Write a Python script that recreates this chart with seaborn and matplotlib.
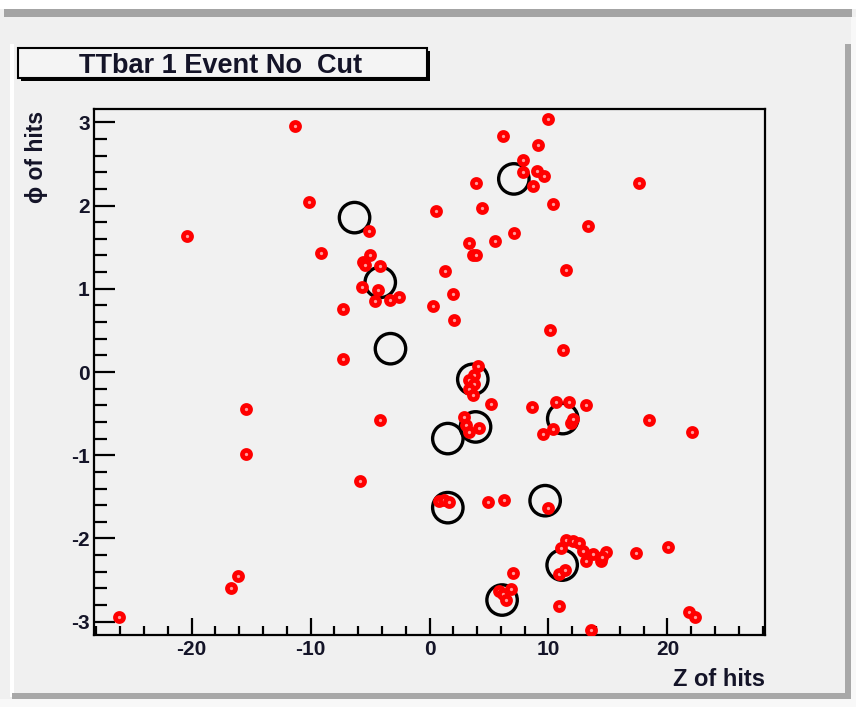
import matplotlib
matplotlib.use("Agg")
import matplotlib.pyplot as plt
from matplotlib.patches import Rectangle
from matplotlib.ticker import MultipleLocator, FixedLocator
import seaborn as sns
import pandas as pd

# Hit positions (Z, phi) for the event
hit_z = [-11.34, -10.17, -20.4, -9.1, -5.05, -7.29, -7.29, -5.6, -4.98, -5.38,
         -4.2, -5.66, -4.31, -4.62, -3.36, -2.58, 0.31, 9.94, 6.19, 9.1,
         7.84, 7.84, 9.02, 9.66, 8.74, 3.87, 17.65, 10.36, 0.56, 4.4,
         13.36, 7.09, 5.52, 3.28, 3.64, 3.92, 1.34, 11.51, 1.96, 2.04,
         10.11, 11.23, 4.06, 3.78, 3.30, 3.78, 3.36, 3.64, 5.18, 8.6,
         10.67, 11.76, 13.17, 18.49, 11.9, 12.05, 10.36, 9.52, 2.94, 3.08,
         3.36, 4.2, 0.84, 1.26, 1.68, 4.9, 6.3, 10.0, 11.49, 12.04,
         12.6, 11.07, 12.88, 13.72, 14.85, 13.17, 14.43, 14.51, 17.37, 20.03,
         10.92, 11.4, 7.0, 5.88, 6.16, 6.39, 6.87, 10.92, 13.59, 21.85,
         22.35, 22.07, -15.4, -4.14, -15.4, -5.82, -16.1, -16.72, -26.1]
hit_phi = [2.96, 2.04, 1.635, 1.43, 1.70, 0.76, 0.16, 1.325, 1.40, 1.285,
           1.27, 1.02, 0.985, 0.85, 0.86, 0.90, 0.79, 3.045, 2.84, 2.73,
           2.55, 2.40, 2.42, 2.36, 2.23, 2.27, 2.27, 2.02, 1.94, 1.97,
           1.76, 1.67, 1.57, 1.555, 1.405, 1.40, 1.21, 1.23, 0.936, 0.63,
           0.51, 0.26, 0.07, -0.04, -0.10, -0.14, -0.20, -0.28, -0.39, -0.425,
           -0.36, -0.36, -0.40, -0.58, -0.61, -0.57, -0.68, -0.74, -0.54, -0.64,
           -0.72, -0.67, -1.545, -1.537, -1.566, -1.565, -1.534, -1.634, -2.02, -2.03,
           -2.06, -2.11, -2.15, -2.19, -2.16, -2.27, -2.27, -2.22, -2.18, -2.10,
           -2.43, -2.38, -2.41, -2.63, -2.67, -2.74, -2.61, -2.81, -3.10, -2.88,
           -2.94, -0.72, -0.44, -0.58, -0.98, -1.305, -2.45, -2.59, -2.94]

# Cluster centres (Z, phi)
seed_z = [-6.3, -4.14, -3.28, 3.64, 3.87, 1.54, 11.2, 7.09, 9.72, 1.54, 11.15, 6.1]
seed_phi = [1.855, 1.077, 0.28, -0.088, -0.66, -0.80, -0.56, 2.32, -1.546, -1.63, -2.32, -2.74]

x_major = [-20, -10, 0, 10, 20]
y_major = [-3, -2, -1, 0, 1, 2, 3]
title_text = "TTbar 1 Event No  Cut"
x_title = "Z of hits"
y_title = "\u03d5 of hits"

hits = pd.DataFrame({"z": hit_z, "phi": hit_phi})
seeds = pd.DataFrame({"z": seed_z, "phi": seed_phi})

sns.set_style("ticks")
plt.rcParams["font.family"] = ["Liberation Sans", "DejaVu Sans"]
plt.rcParams["axes.unicode_minus"] = False

W, H = 856, 707
BG = "#f0f0f0"
TXT = "#141428"
fig = plt.figure(figsize=(W / 100, H / 100), dpi=100, facecolor=BG)


def px_rect(x0, y0, x1, y1, **kw):
    """Rectangle in figure pixels, y measured from the top."""
    fig.add_artist(Rectangle((x0 / W, 1 - y1 / H), (x1 - x0) / W, (y1 - y0) / H,
                             transform=fig.transFigure, **kw))


# Window chrome: top strip, canvas bevel and shadows
px_rect(0, 0, W, 9, facecolor="white", edgecolor="none")
px_rect(4, 9, 852, 17, facecolor="#a4a4a4", edgecolor="none")
px_rect(0, 699, W, H, facecolor="#f8f8f8", edgecolor="none")
px_rect(851, 17, W, H, facecolor="#f8f8f8", edgecolor="none")
px_rect(10, 44, 14, 697, facecolor="white", edgecolor="none")
px_rect(12, 693, 851, 699, facecolor="#a8a8a8", edgecolor="none")
px_rect(845, 44, 851, 699, facecolor="#a8a8a8", edgecolor="none")

# Title box with drop shadow
px_rect(21, 51, 430, 81, facecolor="black", edgecolor="none")
px_rect(18, 48, 427, 78, facecolor="#f4f4f4", edgecolor="black", linewidth=1.5)
fig.text(221 / W, 1 - 73 / H, title_text, ha="center", va="baseline",
         fontsize=19.5, fontweight="bold", color=TXT)

ax = fig.add_axes([94 / W, 1 - 635 / H, (765 - 94) / W, (635 - 109) / H])
ax.set_facecolor("#f1f1f1")

sns.scatterplot(data=seeds, x="z", y="phi", ax=ax, marker="o", s=480,
                facecolor="none", edgecolor="black", linewidth=2.4, zorder=2)
sns.scatterplot(data=hits, x="z", y="phi", ax=ax, marker="o", s=34,
                facecolor="#ff9c9c", edgecolor="red", linewidth=3.4, zorder=3)

ax.set_xlim(-28.2, 28.2)
ax.set_ylim(-3.16, 3.16)
ax.xaxis.set_major_locator(FixedLocator(x_major))
ax.xaxis.set_minor_locator(MultipleLocator(2))
ax.yaxis.set_major_locator(FixedLocator(y_major))
ax.yaxis.set_minor_locator(MultipleLocator(0.2))
ax.set_xticklabels([str(v) for v in x_major])
ax.set_yticklabels([str(v) for v in y_major])

ax.tick_params(axis="both", which="both", direction="in", top=False, right=False,
               width=1.6, color="black")
ax.tick_params(axis="x", which="major", length=12.5, pad=3.6)
ax.tick_params(axis="x", which="minor", length=6.5)
ax.tick_params(axis="y", which="major", length=15, pad=3)
ax.tick_params(axis="y", which="minor", length=9)
for lab in ax.get_xticklabels() + ax.get_yticklabels():
    lab.set_fontsize(15)
    lab.set_fontweight("bold")
    lab.set_color(TXT)

for sp in ax.spines.values():
    sp.set_visible(True)
    sp.set_color("black")
    sp.set_linewidth(1.6)

ax.set_xlabel(x_title, fontsize=17, fontweight="bold", color=TXT)
ax.xaxis.set_label_coords(1.0, -(686 - 635) / 526)
ax.xaxis.label.set_ha("right")
ax.xaxis.label.set_va("baseline")

ax.set_ylabel(y_title, fontsize=16.5, fontweight="bold", color=TXT)
ax.yaxis.set_label_coords(-(94 - 48) / 671, (635 - 111) / 526)
ax.yaxis.label.set_ha("right")
ax.yaxis.label.set_va("bottom")

fig.savefig("out.png", dpi=100, facecolor=fig.get_facecolor())
